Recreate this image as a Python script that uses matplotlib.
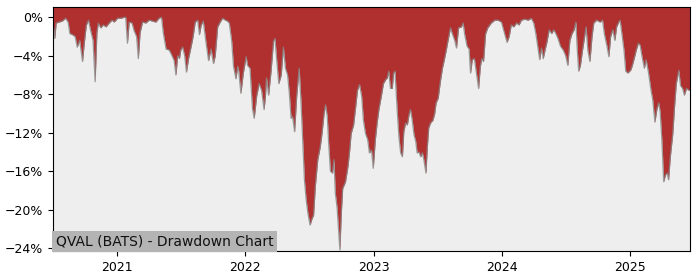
import matplotlib
matplotlib.use("Agg")
import matplotlib.pyplot as plt
import matplotlib.dates as mdates
from matplotlib.ticker import FuncFormatter
import pandas as pd

dates = [
    "2020-07-02", "2020-07-07", "2020-07-11", "2020-07-19", "2020-07-28", "2020-08-07", "2020-08-14",
    "2020-08-19", "2020-08-26", "2020-09-03", "2020-09-09", "2020-09-16", "2020-09-24", "2020-09-29",
    "2020-10-05", "2020-10-11", "2020-10-18", "2020-10-24", "2020-10-30", "2020-11-04", "2020-11-08",
    "2020-11-15", "2020-11-22", "2020-11-30", "2020-12-09", "2020-12-17", "2020-12-23",
    "2021-01-02", "2021-01-11", "2021-01-21", "2021-01-25", "2021-01-30", "2021-02-04", "2021-02-12",
    "2021-02-18", "2021-02-25", "2021-03-02", "2021-03-07", "2021-03-14", "2021-03-23", "2021-04-02",
    "2021-04-11", "2021-04-21", "2021-04-30", "2021-05-07", "2021-05-12", "2021-05-20", "2021-05-29",
    "2021-06-06", "2021-06-12", "2021-06-17", "2021-06-22", "2021-06-27", "2021-07-01", "2021-07-06",
    "2021-07-12", "2021-07-17", "2021-07-23", "2021-07-30", "2021-08-05", "2021-08-11", "2021-08-18",
    "2021-08-23", "2021-08-28", "2021-09-03", "2021-09-11", "2021-09-18", "2021-09-25", "2021-10-02",
    "2021-10-07", "2021-10-14", "2021-10-21", "2021-10-28", "2021-11-05", "2021-11-11", "2021-11-16",
    "2021-11-23", "2021-11-28", "2021-12-05", "2021-12-10", "2021-12-13", "2021-12-19", "2021-12-26",
    "2022-01-03", "2022-01-07", "2022-01-14", "2022-01-21", "2022-01-26", "2022-02-02", "2022-02-09",
    "2022-02-16", "2022-02-23", "2022-02-27", "2022-03-02", "2022-03-08", "2022-03-15", "2022-03-22",
    "2022-03-26", "2022-03-31", "2022-04-06", "2022-04-13", "2022-04-19", "2022-04-25", "2022-05-01",
    "2022-05-06", "2022-05-11", "2022-05-15", "2022-05-21", "2022-05-27", "2022-06-03", "2022-06-08",
    "2022-06-13", "2022-06-18", "2022-06-23", "2022-06-28", "2022-07-04", "2022-07-10", "2022-07-14",
    "2022-07-19", "2022-07-26", "2022-08-02", "2022-08-07", "2022-08-13", "2022-08-17", "2022-08-22",
    "2022-08-26", "2022-08-31", "2022-09-06", "2022-09-10", "2022-09-14", "2022-09-19", "2022-09-24",
    "2022-09-27", "2022-10-01", "2022-10-05", "2022-10-13", "2022-10-20", "2022-10-25", "2022-10-29",
    "2022-11-05", "2022-11-11", "2022-11-16", "2022-11-22", "2022-11-28", "2022-12-03", "2022-12-09",
    "2022-12-15", "2022-12-20", "2022-12-26", "2022-12-31",
    "2023-01-06", "2023-01-11", "2023-01-16", "2023-01-23", "2023-01-29", "2023-02-04", "2023-02-09",
    "2023-02-13", "2023-02-18", "2023-02-23", "2023-02-27", "2023-03-03", "2023-03-09", "2023-03-14",
    "2023-03-19", "2023-03-24", "2023-03-28", "2023-04-02", "2023-04-07", "2023-04-12", "2023-04-16",
    "2023-04-21", "2023-04-26", "2023-05-01", "2023-05-05", "2023-05-10", "2023-05-15", "2023-05-20",
    "2023-05-24", "2023-05-30", "2023-06-03", "2023-06-07", "2023-06-12", "2023-06-19", "2023-06-24",
    "2023-06-28", "2023-07-04", "2023-07-10", "2023-07-16", "2023-07-22", "2023-07-27", "2023-08-01",
    "2023-08-08", "2023-08-13", "2023-08-20", "2023-08-25", "2023-08-31", "2023-09-08", "2023-09-13",
    "2023-09-17", "2023-09-24", "2023-09-30", "2023-10-04", "2023-10-09", "2023-10-15", "2023-10-20",
    "2023-10-27", "2023-11-01", "2023-11-05", "2023-11-10", "2023-11-16", "2023-11-22", "2023-12-02",
    "2023-12-12", "2023-12-21", "2023-12-31",
    "2024-01-09", "2024-01-16", "2024-01-22", "2024-01-28", "2024-02-04", "2024-02-12", "2024-02-19",
    "2024-02-26", "2024-03-06", "2024-03-16", "2024-03-25", "2024-04-01", "2024-04-07", "2024-04-13",
    "2024-04-18", "2024-04-23", "2024-04-28", "2024-05-02", "2024-05-09", "2024-05-15", "2024-05-22",
    "2024-05-28", "2024-06-03", "2024-06-09", "2024-06-16", "2024-06-24", "2024-07-01", "2024-07-07",
    "2024-07-13", "2024-07-19", "2024-07-25", "2024-07-30", "2024-08-03", "2024-08-07", "2024-08-12",
    "2024-08-18", "2024-08-24", "2024-08-28", "2024-09-02", "2024-09-08", "2024-09-14", "2024-09-19",
    "2024-09-27", "2024-10-07", "2024-10-14", "2024-10-19", "2024-10-26", "2024-11-01", "2024-11-06",
    "2024-11-12", "2024-11-18", "2024-11-23", "2024-11-29", "2024-12-03", "2024-12-08", "2024-12-14",
    "2024-12-19", "2024-12-25",
    "2025-01-02", "2025-01-06", "2025-01-12", "2025-01-18", "2025-01-24", "2025-01-29", "2025-02-03",
    "2025-02-10", "2025-02-15", "2025-02-22", "2025-03-01", "2025-03-06", "2025-03-12", "2025-03-18",
    "2025-03-23", "2025-03-27", "2025-04-01", "2025-04-06", "2025-04-11", "2025-04-16", "2025-04-20",
    "2025-04-25", "2025-05-02", "2025-05-07", "2025-05-12", "2025-05-19", "2025-05-24", "2025-05-30",
    "2025-06-04", "2025-06-10", "2025-06-17", "2025-06-20",
]

drawdown_pct = [
    -0.6, -2.2, -0.6, -0.5, -0.4, -0.1, -0.5,
    -1.7, -1.8, -2.0, -3.1, -2.4, -4.6, -2.7,
    -0.8, -0.3, -1.5, -2.4, -6.7, -1.6, -0.6,
    -1.1, -0.8, -1.0, -0.6, -0.3, -0.5,
    -0.1, -0.1, 0.0, 0.0, -2.7, -0.5, -0.6,
    -1.4, -2.0, -4.3, -1.6, -0.5, -0.6, -0.3,
    -0.4, -0.5, -0.1, 0.0, -1.6, -3.3, -3.4,
    -4.0, -4.5, -6.0, -4.0, -4.3, -3.4, -3.1,
    -4.0, -5.7, -4.3, -3.1, -2.0, -0.5, -0.3,
    -1.8, -0.8, -0.4, -2.7, -4.5, -3.3, -4.8,
    -4.0, -1.0, -0.5, -0.1, -0.3, -0.4, -0.6,
    -2.5, -5.1, -6.4, -5.1, -5.6, -7.9, -5.8,
    -4.1, -5.0, -5.3, -9.5, -10.5, -8.2, -6.9,
    -7.6, -9.6, -8.2, -6.3, -8.1, -5.6, -2.5,
    -2.2, -4.4, -6.9, -6.0, -3.1, -5.3, -6.0,
    -7.9, -10.5, -10.3, -11.9, -8.2, -5.3, -8.6,
    -12.7, -16.9, -19.0, -20.4, -21.6, -20.9, -20.6,
    -17.6, -14.8, -13.5, -12.1, -10.0, -9.1, -10.3,
    -13.1, -16.0, -16.2, -14.8, -18.3, -19.8, -22.5,
    -24.2, -20.4, -17.8, -17.1, -15.5, -13.8, -12.1,
    -11.2, -9.3, -7.6, -7.0, -8.2, -10.7, -12.1,
    -12.7, -14.1, -13.8, -15.7,
    -12.7, -11.0, -9.6, -8.2, -6.9, -6.5, -6.3,
    -5.6, -7.4, -7.4, -5.8, -5.6, -9.6, -12.4,
    -14.1, -14.5, -11.9, -11.0, -11.2, -10.1, -9.6,
    -10.7, -12.2, -12.9, -14.1, -14.0, -14.5, -14.1,
    -14.8, -16.2, -13.5, -11.5, -11.0, -10.7, -10.0,
    -8.9, -8.4, -6.7, -5.3, -4.3, -3.4, -2.4,
    -1.1, -1.7, -2.4, -3.2, -1.1, -1.0, -0.6,
    -1.7, -3.0, -3.3, -5.8, -4.4, -4.3, -5.6,
    -7.4, -5.1, -4.3, -4.6, -1.7, -1.1, -0.6,
    -0.3, -0.3, -0.5,
    -1.7, -2.6, -2.0, -0.8, -1.0, -0.6, -0.8,
    -0.3, -0.2, -0.3, -0.1, -0.6, -1.7, -3.2,
    -4.4, -3.2, -4.3, -3.6, -2.5, -1.3, -1.7,
    -1.3, -1.7, -2.2, -3.0, -3.4, -4.0, -5.0,
    -2.4, -1.7, -1.3, -0.5, -3.4, -5.6, -5.0,
    -3.4, -2.0, -1.0, -3.4, -4.6, -2.0, -0.6,
    -0.3, -0.5, -0.3, -1.7, -2.9, -4.1, -2.0,
    -1.3, -2.4, -1.0, -0.5, -0.3, -1.7, -3.4,
    -5.6, -5.8,
    -5.5, -5.1, -4.3, -3.4, -2.7, -2.9, -4.0,
    -5.3, -4.4, -5.8, -7.6, -8.6, -10.9, -9.5,
    -8.9, -9.8, -12.8, -17.1, -16.4, -16.2, -16.9,
    -14.5, -12.1, -9.3, -6.9, -5.5, -7.1, -7.4,
    -8.1, -7.4, -7.6, -7.6,
]

y_ticks = [0, -4, -8, -12, -16, -20, -24]
title_text = "QVAL (BATS) - Drawdown Chart"

x = pd.to_datetime(dates)
y = drawdown_pct

fig = plt.figure(figsize=(7, 2.8), dpi=100)
ax = fig.add_axes([0.0757, 0.1036, 0.91, 0.8714])
ax.set_facecolor("#eeeeee")

y_top = 1.07
y_bot = -24.3
ax.fill_between(x, y, y_top, color="#b03030", linewidth=0)
ax.plot(x, y, color="#888888", linewidth=0.9, alpha=0.8)

ax.set_xlim(x[0], x[-1])
ax.set_ylim(y_bot, y_top)
ax.set_yticks(y_ticks)
ax.yaxis.set_major_formatter(FuncFormatter(
    lambda v, p: ("%d%%" % round(v)).replace("-", "\u2212") if round(v) != 0 else "0%"))
ax.xaxis.set_major_locator(mdates.YearLocator())
ax.xaxis.set_major_formatter(mdates.DateFormatter("%Y"))
ax.tick_params(labelsize=9)

ax.text(0.004, 0.012, title_text, transform=ax.transAxes, fontsize=10,
        ha="left", va="bottom", color="#111111",
        bbox=dict(facecolor="#b4b4b4", edgecolor="none", pad=2.5))

fig.savefig("out.png", dpi=100)
